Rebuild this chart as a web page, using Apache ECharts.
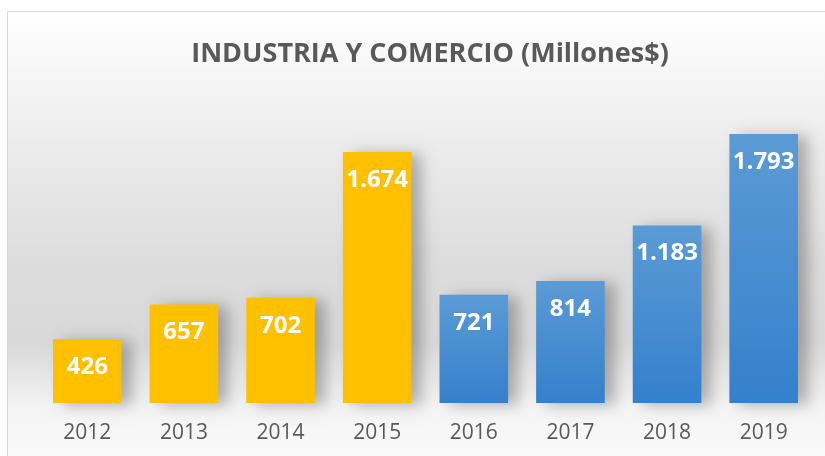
<!DOCTYPE html>
<html>
<head>
<meta charset="utf-8">
<script src="https://cdn.jsdelivr.net/npm/echarts@6/dist/echarts.min.js"></script>
<style>
  html, body { margin: 0; padding: 0; background: #ffffff; }
  #chart { width: 825px; height: 456px; }
</style>
</head>
<body>
<div id="chart"></div>
<script>
// Industria y comercio, millones de $
const years = ['2012', '2013', '2014', '2015', '2016', '2017', '2018', '2019'];
const amounts = [426, 657, 702, 1674, 721, 814, 1183, 1793];
// first four years in gold, later years in blue
const groups = ['gold', 'gold', 'gold', 'gold', 'blue', 'blue', 'blue', 'blue'];

const palette = {
  gold: '#FFC000',
  blue: new echarts.graphic.LinearGradient(0, 0, 0, 1, [
    { offset: 0, color: '#5B9BD5' },
    { offset: 1, color: '#3580CC' }
  ])
};

// thousands separator with a dot, as in es-CO
function fmt(v) {
  return String(v).replace(/\B(?=(\d{3})+(?!\d))/g, '.');
}

const chart = echarts.init(document.getElementById('chart'), null, { renderer: 'canvas' });

chart.setOption({
  animation: false,
  backgroundColor: '#ffffff',
  graphic: [{
    type: 'rect',
    z: -10,
    silent: true,
    shape: { x: 7.5, y: 11.5, width: 830, height: 460 },
    style: {
      stroke: '#d9d9d9',
      lineWidth: 1,
      fill: new echarts.graphic.LinearGradient(0, 0, 0, 1, [
        { offset: 0, color: '#ffffff' },
        { offset: 0.18, color: '#f3f3f3' },
        { offset: 0.55, color: '#dcdcdc' },
        { offset: 0.72, color: '#d9d9d9' },
        { offset: 0.86, color: '#f4f4f4' },
        { offset: 1, color: '#fbfbfb' }
      ])
    }
  }],
  title: {
    text: 'INDUSTRIA Y COMERCIO (Millones$)',
    left: 425,
    textAlign: 'center',
    top: 36,
    textStyle: {
      fontFamily: 'Open Sans',
      fontWeight: 'bold',
      fontSize: 27,
      color: '#595959'
    }
  },
  grid: { left: 39, right: 13, top: 103, bottom: 53 },
  xAxis: {
    type: 'category',
    data: years,
    axisLine: { show: false },
    axisTick: { show: false },
    axisLabel: {
      margin: 20,
      fontFamily: 'Open Sans',
      fontSize: 21,
      color: '#595959'
    }
  },
  yAxis: {
    type: 'value',
    min: 0,
    max: 2000,
    show: false,
    splitLine: { show: false }
  },
  series: [{
    type: 'bar',
    barCategoryGap: '29%',
    data: amounts.map((v, i) => ({
      value: v,
      itemStyle: { color: palette[groups[i]] }
    })),
    itemStyle: {
      shadowColor: 'rgba(0,0,0,0.28)',
      shadowBlur: 14,
      shadowOffsetX: 10,
      shadowOffsetY: 2
    },
    label: {
      show: true,
      position: 'insideTop',
      distance: 16,
      formatter: p => fmt(p.value),
      fontFamily: 'Open Sans',
      fontWeight: 'bold',
      fontSize: 24,
      color: '#ffffff'
    }
  }]
});
</script>
</body>
</html>
